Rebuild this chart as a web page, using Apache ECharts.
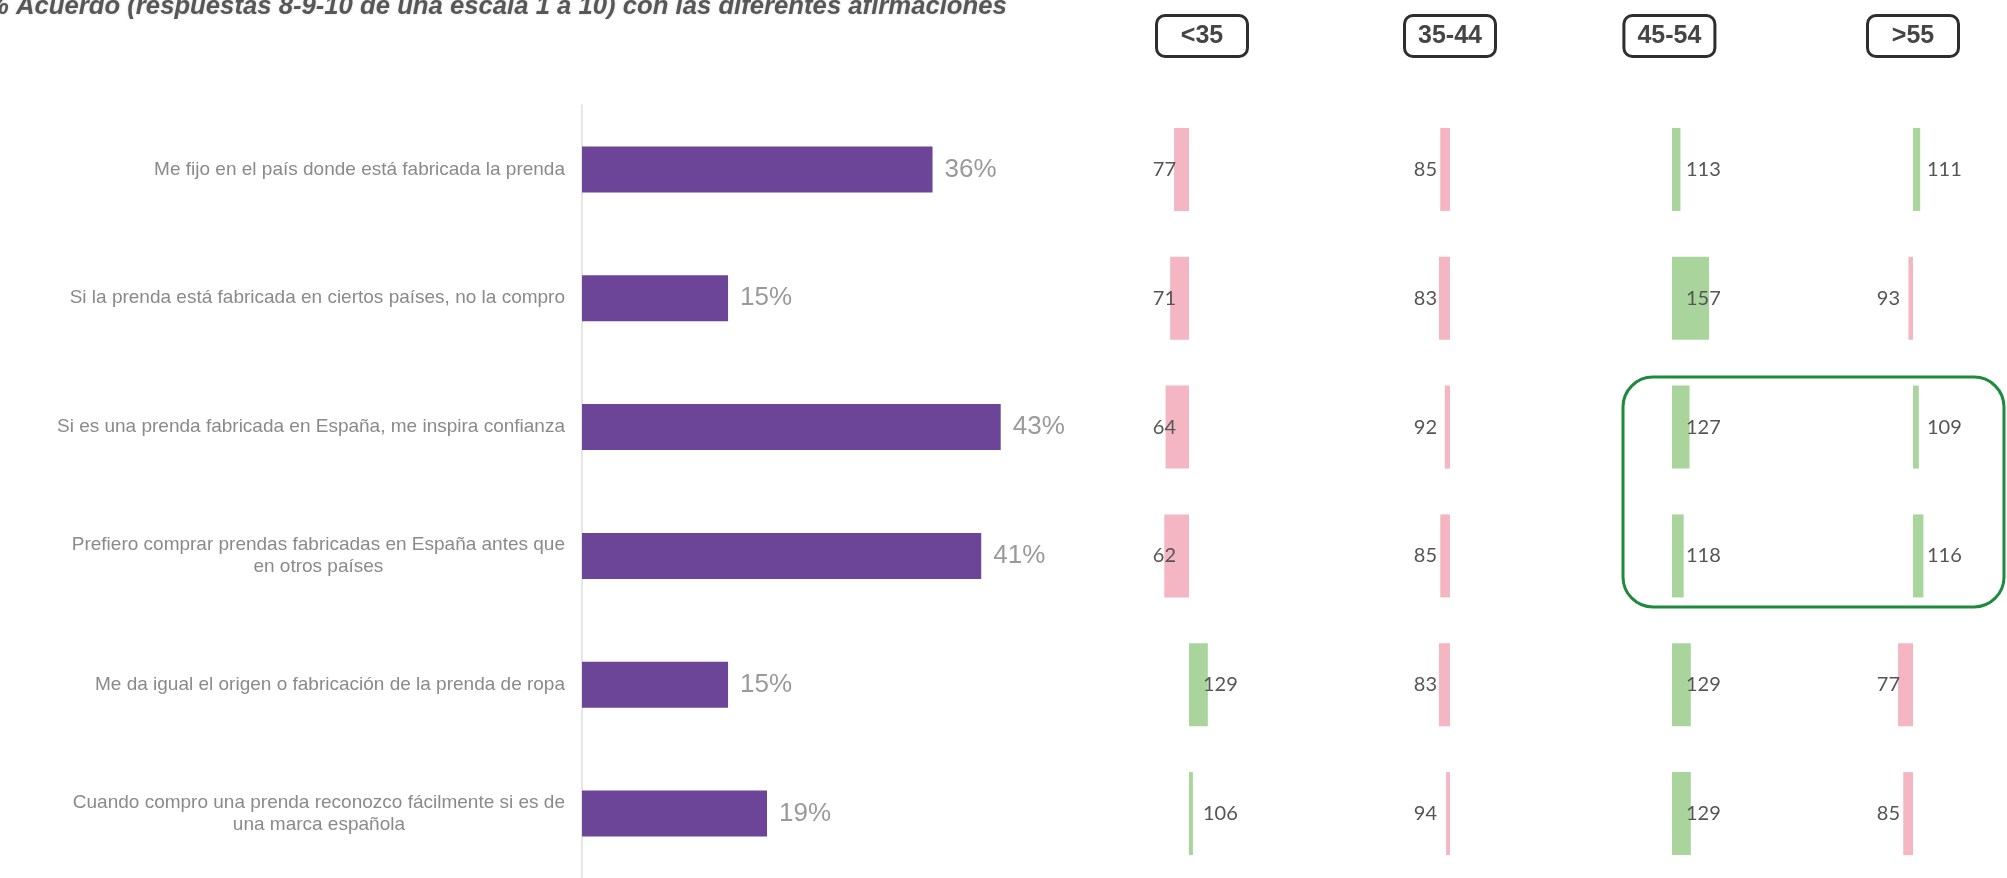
<!DOCTYPE html>
<html>
<head>
<meta charset="utf-8">
<script src="https://cdn.jsdelivr.net/npm/echarts@6/dist/echarts.min.js"></script>
<style>
  html, body { margin: 0; padding: 0; background: #ffffff; }
  #chart { width: 2007px; height: 878px; }
</style>
</head>
<body>
<div id="chart"></div>
<script>
// ---------- data ----------
const titleText = '% Acuerdo (respuestas 8-9-10 de una escala 1 a 10) con las diferentes afirmaciones';
const categories = [
  'Me fijo en el país donde está fabricada la prenda',
  'Si la prenda está fabricada en ciertos países, no la compro',
  'Si es una prenda fabricada en España, me inspira confianza',
  'Prefiero comprar prendas fabricadas en España antes que\nen otros países',
  'Me da igual el origen o fabricación de la prenda de ropa',
  'Cuando compro una prenda reconozco fácilmente si es de\nuna marca española'
];
const agreementPct = [36, 15, 43, 41, 15, 19];
const ageGroups = ['<35', '35-44', '45-54', '>55'];
const indexUnder35 = [77, 71, 64, 62, 129, 106];
const index35to44 = [85, 83, 92, 85, 83, 94];
const index45to54 = [113, 157, 127, 118, 129, 129];
const indexOver55 = [111, 93, 109, 116, 77, 85];
const indexBase = 100;

// ---------- layout / style ----------
const FONT = 'Liberation Sans, Arial, sans-serif';
const GRID_TOP = 105, GRID_H = 780;
const PX_PER_UNIT = 0.65;
const colLayout = [
  { base: 1189, min: -100, max: 140 },
  { base: 1450, min: -100, max: 100 },
  { base: 1672, min: -100, max: 92 },
  { base: 1913, min: -100, max: 100 }
];
const PINK = '#F4B6C3', GREEN = '#A9D59D', PURPLE = '#6C4598';

const indexSeries = [indexUnder35, index35to44, index45to54, indexOver55];

const grids = [{ left: 582, top: GRID_TOP, width: 482, height: GRID_H }];
const xAxes = [{
  gridIndex: 0, type: 'value', min: 0, max: 49.5, show: false
}];
const yAxes = [{
  gridIndex: 0, type: 'category', data: categories, inverse: true,
  axisLine: { show: true, lineStyle: { color: '#dedede', width: 1.5 } },
  axisTick: { show: false },
  axisLabel: {
    margin: 17,
    fontFamily: FONT, fontSize: 19, color: '#8a8a8a', lineHeight: 22,
    formatter: function (v) {
      return v.split('\n').map(function (l) { return '{c|' + l + '}'; }).join('\n');
    },
    rich: { c: { align: 'center', fontFamily: FONT, fontSize: 19, color: '#8a8a8a', lineHeight: 22 } }
  }
}];
const series = [{
  type: 'bar', xAxisIndex: 0, yAxisIndex: 0, data: agreementPct,
  barWidth: 46, itemStyle: { color: PURPLE },
  label: {
    show: true, position: 'right', distance: 12,
    fontFamily: FONT, fontSize: 26, color: '#9a9a9a',
    formatter: '{c}%'
  },
  silent: true, animation: false
}];

colLayout.forEach(function (c, i) {
  const gi = i + 1;
  grids.push({
    left: c.base + c.min * PX_PER_UNIT, top: GRID_TOP,
    width: (c.max - c.min) * PX_PER_UNIT, height: GRID_H
  });
  xAxes.push({
    gridIndex: gi, type: 'value', min: c.min, max: c.max, position: 'top',
    axisLine: { show: false }, axisTick: { show: false }, axisLabel: { show: false },
    splitLine: { show: false },
    name: '{h|' + ageGroups[i] + '}', nameLocation: 'middle', nameGap: 53,
    nameTextStyle: {
      rich: {
        h: {
          fontFamily: FONT, fontSize: 25, fontWeight: 'bold', color: '#454545',
          borderColor: '#2e2e2e', borderWidth: 3, borderRadius: 7,
          width: 84, height: 32, lineHeight: 32, align: 'center',
          padding: [3, 2, 3, 2], backgroundColor: '#fff'
        }
      }
    }
  });
  yAxes.push({
    gridIndex: gi, type: 'category', data: categories, inverse: true, show: false
  });
  series.push({
    type: 'bar', xAxisIndex: gi, yAxisIndex: gi, barWidth: 83,
    silent: true, animation: false,
    data: indexSeries[i].map(function (v) {
      const d = v - indexBase;
      return {
        value: d, raw: v,
        itemStyle: { color: d < 0 ? PINK : GREEN },
        label: d < 0
          ? { position: 'insideRight', distance: 13 }
          : { position: 'insideLeft', distance: 14 }
      };
    }),
    label: {
      show: true, fontFamily: 'Lato, ' + FONT, fontSize: 20, color: '#555555',
      formatter: function (p) { return String(p.data.raw); }
    }
  });
});

const chart = echarts.init(document.getElementById('chart'), null, { renderer: 'canvas' });
chart.setOption({
  backgroundColor: '#ffffff',
  animation: false,
  title: {
    text: titleText, left: -14, top: -6, padding: 0,
    textStyle: {
      fontFamily: FONT, fontSize: 25.7, fontStyle: 'italic', fontWeight: 'bold',
      color: '#575757', textShadowColor: 'rgba(0,0,0,0.15)', textShadowBlur: 3
    }
  },
  grid: grids, xAxis: xAxes, yAxis: yAxes, series: series
});

// highlight box around rows 3-4 of the two oldest groups
const pTop = chart.convertToPixel({ xAxisIndex: 3, yAxisIndex: 3 }, [0, 2]);
const pBot = chart.convertToPixel({ xAxisIndex: 3, yAxisIndex: 3 }, [0, 3]);
const pRight = chart.convertToPixel({ xAxisIndex: 4, yAxisIndex: 4 }, [0, 2]);
chart.setOption({
  graphic: [{
    type: 'rect', silent: true,
    shape: {
      x: pTop[0] - 49, y: pTop[1] - 50,
      width: (pRight[0] + 91) - (pTop[0] - 49),
      height: (pBot[1] + 51) - (pTop[1] - 50),
      r: 30
    },
    style: { fill: 'none', stroke: '#1F8A3B', lineWidth: 3 }
  }]
});
</script>
</body>
</html>
